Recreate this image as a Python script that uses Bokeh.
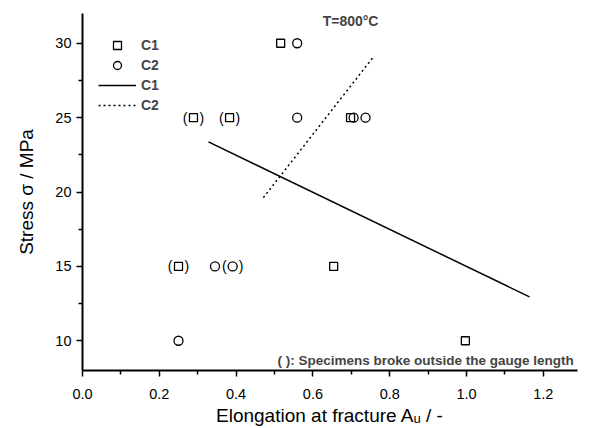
from bokeh.plotting import figure
from bokeh.models import Range1d, Legend, LegendItem, Label, FixedTicker, CustomJSTickFormatter
from bokeh.core.properties import value
from bokeh.embed import file_html
from bokeh.resources import INLINE

# ---- data ----
c1_x = [0.516, 0.698, 0.654, 0.997]
c1_y = [30, 25, 15, 10]
c1_out_x = [0.289, 0.383, 0.25]
c1_out_y = [25, 25, 15]
c2_x = [0.559, 0.559, 0.706, 0.737, 0.345, 0.25]
c2_y = [30, 25, 25, 25, 15, 10]
c2_out_x = [0.391]
c2_out_y = [15]
c1_fit_x = [0.328, 1.164]
c1_fit_y = [23.37, 12.95]
c2_fit_x = [0.471, 0.755]
c2_fit_y = [19.62, 29.0]
x_ticks = [0.0, 0.2, 0.4, 0.6, 0.8, 1.0, 1.2]
y_ticks = [10, 15, 20, 25, 30]

FONT = "Liberation Sans"

p = figure(width=593, height=428, output_backend="svg", toolbar_location=None,
           x_range=Range1d(0, 1.289), y_range=Range1d(8, 32),
           min_border_left=82, min_border_right=16, min_border_top=13, min_border_bottom=57)
p.outline_line_color = None
p.grid.visible = False
p.background_fill_color = "white"
p.border_fill_color = "white"

for ax in (p.xaxis[0], p.yaxis[0]):
    ax.axis_line_width = 2
    ax.major_tick_line_width = 1.5
    ax.minor_tick_line_width = 1.5
    ax.major_tick_out = 6
    ax.major_tick_in = 0
    ax.minor_tick_out = 4
    ax.minor_tick_in = 0
    ax.major_label_text_font = FONT
    ax.major_label_text_font_size = "14.5px"
    ax.major_label_text_color = "black"
    ax.axis_label_text_font = FONT
    ax.axis_label_text_font_style = "normal"
    ax.axis_label_text_font_size = "19px"
    ax.axis_label_text_color = "black"

p.xaxis.ticker = FixedTicker(ticks=x_ticks, minor_ticks=[0.1, 0.3, 0.5, 0.7, 0.9, 1.1])
p.yaxis.ticker = FixedTicker(ticks=y_ticks, minor_ticks=[12.5, 17.5, 22.5, 27.5])
p.xaxis.formatter = CustomJSTickFormatter(code="return tick.toFixed(1);")
p.xaxis.axis_label = "Elongation at fracture A\u1d64 / -"
p.yaxis.axis_label = "Stress \u03c3 / MPa"
p.xaxis.major_label_standoff = 12
p.xaxis.axis_label_standoff = 3
p.yaxis.axis_label_standoff = 15

r_sq = p.scatter(c1_x, c1_y, marker="square", size=8, fill_color=None,
                 line_color="black", line_width=1.3)
r_sq2 = p.scatter(c1_out_x, c1_out_y, marker="square", size=8, fill_color=None,
                  line_color="black", line_width=1.3)
r_ci = p.scatter(c2_x, c2_y, marker="circle", size=9, fill_color=None,
                 line_color="black", line_width=1.3)
r_ci2 = p.scatter(c2_out_x, c2_out_y, marker="circle", size=9, fill_color=None,
                  line_color="black", line_width=1.3)

# parentheses around specimens that broke outside the gauge length
px = c1_out_x + c2_out_x
py = c1_out_y + c2_out_y
p.text(px, py, text=["("] * len(px), x_offset=-6, text_align="right", text_baseline="middle",
       text_font=value(FONT), text_font_size="14px", text_color="black")
p.text(px, py, text=[")"] * len(px), x_offset=6, text_align="left", text_baseline="middle",
       text_font=value(FONT), text_font_size="14px", text_color="black")

r_l1 = p.line(c1_fit_x, c1_fit_y, line_color="black", line_width=1.5)
r_l2 = p.line(c2_fit_x, c2_fit_y, line_color="black", line_width=1.5, line_dash="2 3")

legend = Legend(items=[
    LegendItem(label="C1", renderers=[r_sq]),
    LegendItem(label="C2", renderers=[r_ci]),
    LegendItem(label="C1", renderers=[r_l1]),
    LegendItem(label="C2", renderers=[r_l2]),
], location=(16, 255), padding=0, margin=0, spacing=0,
   glyph_width=38, glyph_height=20, label_height=20, label_standoff=5,
   border_line_color=None, background_fill_alpha=0,
   label_text_font=FONT, label_text_font_style="bold", label_text_font_size="14px")
p.add_layout(legend, "center")

p.add_layout(Label(x=0.698, y=31.5, text="T=800\u00b0C", text_align="center", text_baseline="middle",
                   text_font=FONT, text_font_style="bold", text_font_size="14px"))
p.add_layout(Label(x=1.289, y=8.7, text="(  ): Specimens broke outside the gauge length",
                   text_align="right", text_baseline="middle",
                   text_font=FONT, text_font_style="bold", text_font_size="13.5px"))

open("out.html", "w").write(file_html(p, INLINE))
